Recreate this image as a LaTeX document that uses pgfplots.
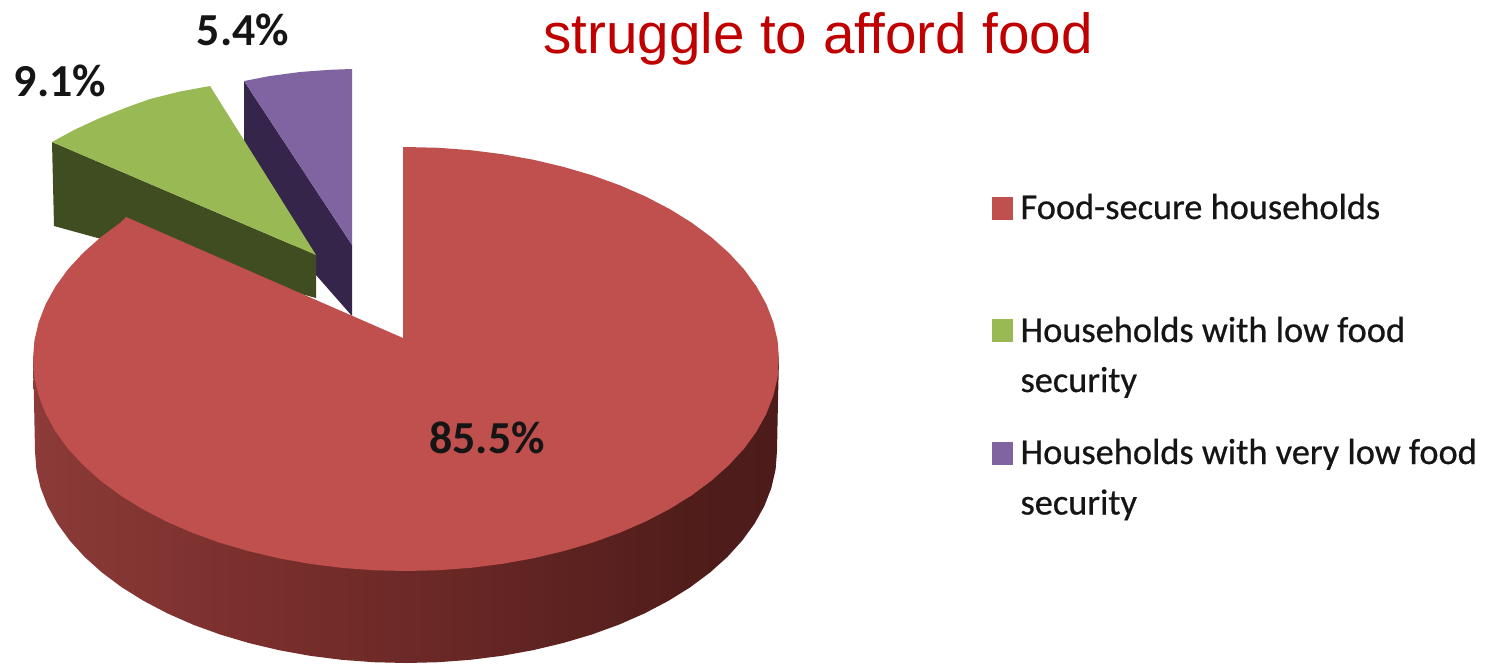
\documentclass[border=0pt]{standalone}
\usepackage{pgfplots}
\pgfplotsset{compat=1.18}
\usepackage{fontspec}
\setmainfont{Carlito}
\newfontfamily\titlefont{Liberation Sans}
\newfontfamily\legendfont[FakeBold=0.6]{Carlito}
\definecolor{redtop}{HTML}{C0504D}
\definecolor{greentop}{HTML}{98B954}
\definecolor{greenside}{HTML}{404D20}
\definecolor{purpletop}{HTML}{8063A1}
\definecolor{purpleside}{HTML}{35254A}
\definecolor{titlered}{HTML}{C00000}
\definecolor{labelink}{HTML}{151515}
\definecolor{sidea}{HTML}{A04846}
\definecolor{sideb}{HTML}{943F3D}
\definecolor{sidec}{HTML}{8A3A37}
\definecolor{sided}{HTML}{7A2F2C}
\definecolor{sidee}{HTML}{6A2826}
\definecolor{sidef}{HTML}{4E1C1A}
\definecolor{sideg}{HTML}{481A18}
\pgfdeclarehorizontalshading{pieside}{100bp}{
  color(0bp)=(sidea);
  color(20bp)=(sideb);
  color(26bp)=(sidec);
  color(40bp)=(sided);
  color(52bp)=(sidee);
  color(71bp)=(sidef);
  color(100bp)=(sideg)}
\begin{document}
\begin{tikzpicture}
\begin{axis}[
  scale only axis, width=1487bp, height=663bp,
  xmin=0, xmax=1487, ymin=0, ymax=663, y dir=reverse,
  hide axis, clip=true,
  every node/.style={inner sep=0pt, outer sep=0pt},
]
% keep the whole frame in the page
\path (rel axis cs:0,0) rectangle (rel axis cs:1,1);
% purple slice
\addplot[draw=none, fill=purpleside] coordinates {
  (244,81) (352,245) (352,316) (316,275) (244,180)} -- cycle;
\addplot[draw=none, fill=purpletop] coordinates {
  (244,81) (270,76) (300,72) (330,69.8) (352,69) (352,245)} -- cycle;
% green slice
\addplot[draw=none, fill=greenside] coordinates {
  (52,142) (316,255) (316,298) (54,226)} -- cycle;
\addplot[draw=none, fill=greentop] coordinates {
  (52,142) (75,129.5) (100,118) (125,108) (150,99) (180,91.5) (210,86) (316,255)} -- cycle;
% red slice, rim first
\addplot[draw=none, shading=pieside] coordinates {
  (779,359) (778,400) (777,451) (775.6,469.5) (771.4,487.8) (764.4,505.9) (754.6,523.5)
  (742.2,540.6) (727.3,557) (709.9,572.6) (690.2,587.3) (668.3,600.9) (644.5,613.4)
  (618.8,624.7) (591.5,634.6) (562.8,643.1) (532.9,650.2) (502,655.8) (470.4,659.8)
  (438.4,662.2) (406,663) (373.6,662.2) (341.6,659.8) (310,655.8) (279.1,650.2)
  (249.2,643.1) (220.5,634.6) (193.2,624.7) (167.5,613.4) (143.7,600.9) (121.8,587.3)
  (102.1,572.6) (84.7,557) (69.8,540.6) (57.4,523.5) (47.6,505.9) (40.6,487.8)
  (36.4,469.5) (35,451) (34,400) (33,359)} -- cycle;
\addplot[draw=none, fill=redtop] coordinates {
  (403,338) (403,147) (406,147) (438.5,147.8) (470.8,150.2) (502.5,154.2) (533.6,159.8)
  (563.6,166.9) (592.5,175.4) (619.9,185.3) (645.8,196.6) (669.8,209.1) (691.7,222.7)
  (711.5,237.4) (729,253) (744.1,269.4) (756.5,286.5) (766.3,304.1) (773.3,322.2)
  (777.6,340.5) (779,359) (777.6,377.5) (773.3,395.8) (766.3,413.9) (756.5,431.5)
  (744.1,448.6) (729,465) (711.5,480.6) (691.7,495.3) (669.8,508.9) (645.8,521.4)
  (619.9,532.7) (592.5,542.6) (563.6,551.1) (533.6,558.2) (502.5,563.8) (470.8,567.8)
  (438.5,570.2) (406,571) (373.5,570.2) (341.2,567.8) (309.5,563.8) (278.4,558.2)
  (248.4,551.1) (219.5,542.6) (192.1,532.7) (166.2,521.4) (142.2,508.9) (120.3,495.3)
  (100.5,480.6) (83,465) (67.9,448.6) (55.5,431.5) (45.7,413.9) (38.7,395.8)
  (34.4,377.5) (33,359) (34.4,340.5) (38.7,322.2) (45.7,304.1) (55.5,286.5)
  (67.9,269.4) (83,253) (100.5,237.4) (120.3,222.7) (126,217)} -- cycle;
% legend swatches
\addplot[draw=none, fill=redtop] coordinates {(992,197) (1013,197) (1013,220) (992,220)} -- cycle;
\addplot[draw=none, fill=greentop] coordinates {(992,319) (1013,319) (1013,342) (992,342)} -- cycle;
\addplot[draw=none, fill=purpletop] coordinates {(992,442) (1013,442) (1013,465) (992,465)} -- cycle;
% text
\node[anchor=base, text=titlered, font=\titlefont\fontsize{56.8}{64}\selectfont] at (axis cs:818,53.5) {struggle to afford food};
\begin{scope}[every node/.append style={text=labelink, font=\fontsize{46}{50}\selectfont\bfseries}]
\node[anchor=base] at (axis cs:243,46) {5.4\%};
\node[anchor=base] at (axis cs:60,96.5) {9.1\%};
\node[anchor=base] at (axis cs:487,453) {85.5\%};
\end{scope}
\begin{scope}[every node/.append style={anchor=base west, text=labelink, font=\legendfont\fontsize{36.5}{44}\selectfont}]
\node at (axis cs:1017,219) {Food-secure households};
\node at (axis cs:1017,342) {Households with low food};
\node at (axis cs:1017,392) {security};
\node at (axis cs:1017,464) {Households with very low food};
\node at (axis cs:1017,514.5) {security};
\end{scope}
\end{axis}
\end{tikzpicture}
\end{document}
